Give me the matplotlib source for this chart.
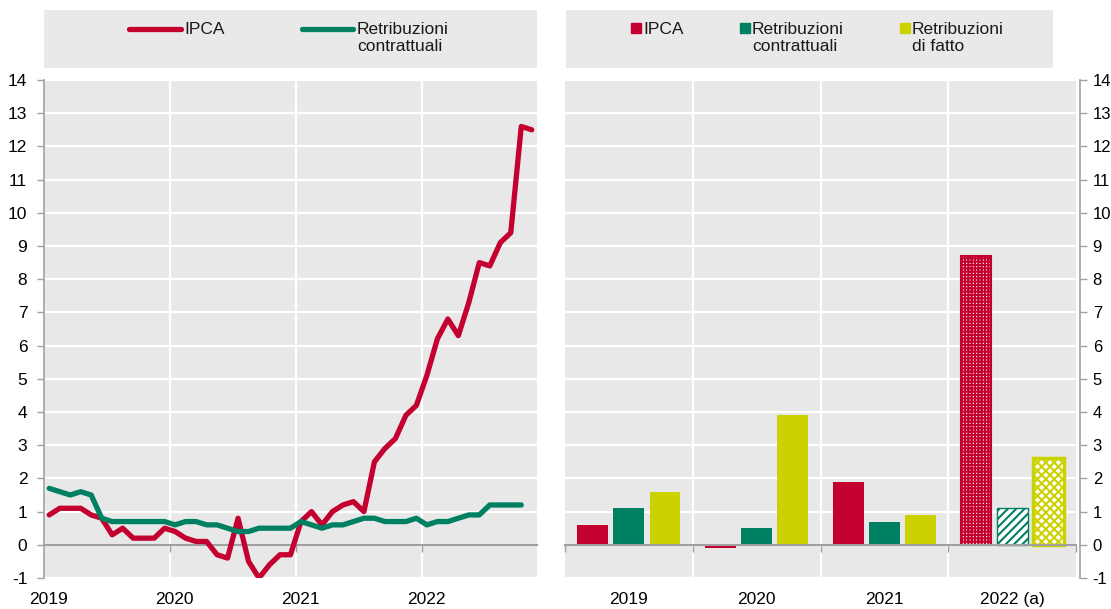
import matplotlib
matplotlib.use('Agg')
import matplotlib.pyplot as plt
import matplotlib.transforms as mtrans
import numpy as np

plt.rcParams['font.family'] = ['Liberation Sans', 'DejaVu Sans']
plt.rcParams['font.size'] = 12.5
plt.rcParams['text.color'] = '#1a1a1a'
plt.rcParams['hatch.linewidth'] = 1.5
plt.rcParams['axes.unicode_minus'] = False

red = '#c3002f'
green = '#008062'
yellow = '#cbd200'
bg = '#e8e8e8'
axgray = '#a0a0a0'

# monthly series, Jan 2019 onwards (% y/y)
year_labels = ['2019', '2020', '2021', '2022']
ipca_m = [0.9, 1.1, 1.1, 1.1, 0.9, 0.8, 0.3, 0.5, 0.2, 0.2, 0.2, 0.5,
          0.4, 0.2, 0.1, 0.1, -0.3, -0.4, 0.8, -0.5, -1.0, -0.6, -0.3, -0.3,
          0.7, 1.0, 0.6, 1.0, 1.2, 1.3, 1.0, 2.5, 2.9, 3.2, 3.9, 4.2,
          5.1, 6.2, 6.8, 6.3, 7.3, 8.5, 8.4, 9.1, 9.4, 12.6, 12.5]
contr_m = [1.7, 1.6, 1.5, 1.6, 1.5, 0.8, 0.7, 0.7, 0.7, 0.7, 0.7, 0.7,
           0.6, 0.7, 0.7, 0.6, 0.6, 0.5, 0.4, 0.4, 0.5, 0.5, 0.5, 0.5,
           0.7, 0.6, 0.5, 0.6, 0.6, 0.7, 0.8, 0.8, 0.7, 0.7, 0.7, 0.8,
           0.6, 0.7, 0.7, 0.8, 0.9, 0.9, 1.2, 1.2, 1.2, 1.2]

# annual averages
bar_years = ['2019', '2020', '2021', '2022 (a)']
ipca_y = [0.6, -0.1, 1.9, 8.7]
contr_y = [1.1, 0.5, 0.7, 1.1]
fatto_y = [1.6, 3.9, 0.9, 2.6]
estimate = [False, False, False, True]

W, H = 1111, 609
def box(x0, y0, x1, y1):
    return [x0 / W, 1 - y1 / H, (x1 - x0) / W, (y1 - y0) / H]

fig = plt.figure(figsize=(11.11, 6.09), dpi=100)
ax1 = fig.add_axes(box(44, 80, 537, 578))
ax2 = fig.add_axes(box(565, 80, 1076, 578))
leg1 = fig.add_axes(box(44, 10, 537, 68))
leg2 = fig.add_axes(box(566, 10, 1053, 68))

# ---- left panel: monthly lines
ax1.set_facecolor(bg)
ax1.plot(np.arange(len(ipca_m)) + 0.5, ipca_m, color=red, lw=3.8,
         solid_capstyle='round', solid_joinstyle='round', zorder=3)
ax1.plot(np.arange(len(contr_m)) + 0.5, contr_m, color=green, lw=3.8,
         solid_capstyle='round', solid_joinstyle='round', zorder=4)
ax1.set_xlim(0, 47)
ax1.set_ylim(-1, 14)
ax1.set_yticks(range(-1, 15))
ax1.set_xticks(np.arange(len(year_labels)) * 12, year_labels)
ax1.grid(True, color='white', lw=1.6)
ax1.set_axisbelow(True)
for s in ['top', 'right', 'bottom']:
    ax1.spines[s].set_visible(False)
ax1.spines['left'].set_color(axgray)
ax1.spines['left'].set_linewidth(1.2)
ax1.tick_params(axis='y', direction='out', length=5, width=1, color=axgray, pad=7)
ax1.tick_params(axis='x', length=0, pad=10)
off = mtrans.ScaledTranslation(0.05, 0, fig.dpi_scale_trans)
for lab in ax1.get_xticklabels():
    lab.set_transform(lab.get_transform() + off)

z1 = ax1.secondary_xaxis(1 / 15)
z1.set_xticks(np.arange(1, len(year_labels)) * 12)
z1.tick_params(length=5, width=1, color=axgray, labelbottom=False, labeltop=False)
for s in ['top', 'bottom']:
    z1.spines[s].set_color(axgray)
    z1.spines[s].set_linewidth(1.5)
z1.set_zorder(2)

# ---- right panel: annual bars
ax2.set_facecolor(bg)
xb = np.arange(len(bar_years))
bw, sh = 0.242, 0.283
series = [(ipca_y, -sh, red, '+++++', 1.5),
          (contr_y, 0, green, '////', 1.0),
          (fatto_y, sh, yellow, 'xxxx', 2.5)]
for vals, dx, col, hatch, elw in series:
    bars = ax2.bar(xb + dx, vals, bw, color=col, zorder=2)
    for b, est in zip(bars, estimate):
        if est:
            b.set_facecolor('white')
            b.set_edgecolor(col)
            b.set_hatch(hatch)
            b.set_linewidth(elw)
ax2.set_xlim(-0.5, 3.5)
ax2.set_ylim(-1, 14)
ax2.set_yticks(range(-1, 15))
ax2.set_xticks(xb, bar_years)
ax2.set_xticks(xb[:-1] + 0.5, minor=True)
ax2.grid(True, which='major', axis='y', color='white', lw=1.6)
ax2.grid(True, which='minor', axis='x', color='white', lw=1.6)
ax2.set_axisbelow(True)
ax2.yaxis.tick_right()
for s in ['top', 'left', 'bottom']:
    ax2.spines[s].set_visible(False)
ax2.spines['right'].set_color(axgray)
ax2.spines['right'].set_linewidth(1.2)
ax2.spines['right'].set_position(('outward', 3))
ax2.tick_params(axis='y', direction='out', length=5, width=1, color=axgray,
                pad=4, labelsize=12)
ax2.tick_params(axis='x', which='both', length=0, pad=10)

z2 = ax2.secondary_xaxis(1 / 15)
z2.set_xticks(np.arange(len(bar_years) + 1) - 0.5)
z2.tick_params(length=5, width=1, color=axgray, labelbottom=False, labeltop=False)
for s in ['top', 'bottom']:
    z2.spines[s].set_color(axgray)
    z2.spines[s].set_linewidth(1.5)
z2.set_zorder(3)

# ---- legend boxes
for lg, (x0, x1) in [(leg1, (44, 537)), (leg2, (566, 1053))]:
    lg.set_facecolor('#e9e9e9')
    lg.set_xlim(x0, x1)
    lg.set_ylim(68, 10)
    lg.set_xticks([])
    lg.set_yticks([])
    for s in lg.spines.values():
        s.set_visible(False)

leg1.plot([129, 181], [29, 29], color=red, lw=3.8, solid_capstyle='round')
leg1.text(184, 22, 'IPCA', va='top', ha='left')
leg1.plot([302, 353], [29, 29], color=green, lw=3.8, solid_capstyle='round')
leg1.text(357, 22, 'Retribuzioni\ncontrattuali', va='top', ha='left', linespacing=1.15)

for xm, col, txt in [(635.5, red, 'IPCA'),
                     (744.5, green, 'Retribuzioni\ncontrattuali'),
                     (904.5, yellow, 'Retribuzioni\ndi fatto')]:
    leg2.plot([xm], [28], marker='s', ms=6.5, color=col, ls='none')
    leg2.text(xm + 7.5, 22, txt, va='top', ha='left', linespacing=1.15)

fig.savefig('out.png', dpi=100)
